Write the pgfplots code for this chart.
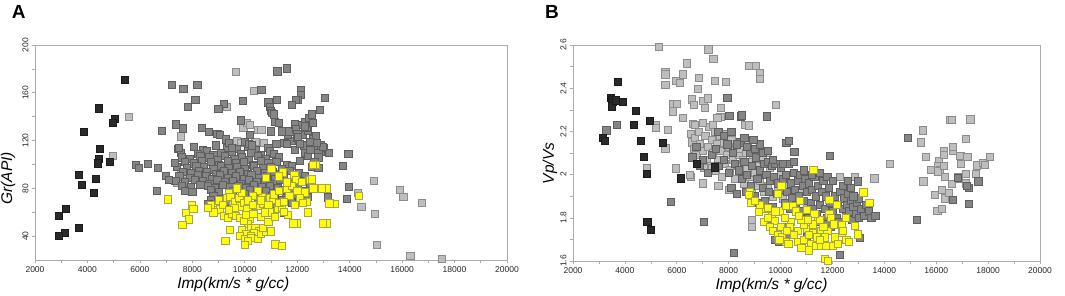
\documentclass[border=0pt]{standalone}
\usepackage{pgfplots}
\pgfplotsset{compat=1.18}
\usepackage{fontspec}
\setmainfont{Liberation Sans}
\setsansfont{Liberation Sans}
\definecolor{blkf}{HTML}{2A2A2A}
\definecolor{blkd}{HTML}{1A1A1A}
\definecolor{dkf}{HTML}{858585}
\definecolor{dkd}{HTML}{5E5E5E}
\definecolor{ltf}{HTML}{BEBEBE}
\definecolor{ltd}{HTML}{8C8C8C}
\definecolor{ylf}{HTML}{FFFF00}
\definecolor{yld}{HTML}{A6A650}
\definecolor{framec}{HTML}{ABABAB}
\pgfplotsset{
  panel/.style={
    scale only axis,
    xmin=2000, xmax=20000,
    xtick={2000,4000,...,20000},
    minor xtick={3000,5000,...,19000},
    scaled x ticks=false, scaled y ticks=false,
    tick align=outside, tick pos=left,
    major tick length=3pt, minor tick length=3pt,
    axis line style={draw=framec, line width=0.6pt},
    every tick/.style={draw=framec, line width=0.6pt},
    tick label style={font=\fontsize{8.5}{10}\selectfont, text=black!85},
    yticklabel style={rotate=90, anchor=south},
    /pgf/number format/1000 sep={},
    /pgf/number format/assume math mode=true,
    xlabel style={font=\fontsize{15.5}{18}\selectfont\itshape, inner sep=0pt, anchor=north},
    ylabel style={font=\fontsize{15.5}{18}\selectfont\itshape, inner sep=0pt, anchor=south},
  },
  dk/.style={only marks, mark=square*, mark size=3.6pt, mark options={fill=dkf, draw=dkd, line width=0.6pt}},
  lt/.style={only marks, mark=square*, mark size=3.6pt, mark options={fill=ltf, draw=ltd, line width=0.6pt}},
  yl/.style={only marks, mark=square*, mark size=3.6pt, mark options={fill=ylf, draw=yld, line width=0.6pt}},
  bk/.style={only marks, mark=square*, mark size=3.6pt, mark options={fill=blkf, draw=blkd, line width=0.6pt}},
}
\begin{document}
\begin{tikzpicture}
\useasboundingbox (0,0) rectangle (1065pt,295pt);
\node[anchor=base west, inner sep=0pt, font=\fontsize{19}{22}\selectfont\bfseries] at (11.7pt,276.7pt) {A};
\node[anchor=base west, inner sep=0pt, font=\fontsize{19}{22}\selectfont\bfseries] at (545pt,276.7pt) {B};
% ---------------- Panel A ----------------
\begin{axis}[panel, at={(35pt,35pt)}, anchor=south west, width=472pt, height=215pt,
  ymin=20, ymax=200, ytick={40,80,120,160,200}, minor ytick={60,100,140,180},
  xlabel={Imp(km/s * g/cc)}, ylabel={Gr(API)},
  xlabel style={at={(axis description cs:0.42,0)}, yshift=-17pt},
  ylabel style={at={(axis description cs:-0.041,0.38)}}]
% light gray
\addplot[lt] coordinates {(9650,177.7) (10340,161.8) (9323,148) (5590,140) (4965,107) (7556,123.5) (9700,120) (9940,131) (10070,135) (10486,129) (10630,128.8) (10715,118) (7547,94) (7430,84.7) (7800,92) (14913,86) (14303,76) (15920,79) (16046,73) (16758,68) (14443,64.6) (14964,58.8) (15040,33) (16313,23.6) (17520,20.8) (9850,118) (10400,119) (10200,133)};
% dark gray core
\addplot[dk] coordinates {
(7450,113) (8050,115) (8400,112) (8900,116) (9300,114) (9700,113) (10100,115) (10400,112) (10900,114) (12250,116) (12700,113)
(7550,110) (8200,109) (8550,111) (8800,108) (9100,110) (9500,111) (9850,109) (10250,110) (10600,108) (10950,111) (11100,109) (12300,110) (12900,111)
(7600,106) (7900,105) (8300,107) (8650,106) (8950,104) (9250,107) (9600,105) (9900,106) (10150,104) (10500,107) (10800,105) (11300,106) (12400,107)
(7700,102) (8050,101) (8350,103) (8700,102) (9000,100) (9350,103) (9650,101) (9950,102) (10300,100) (10600,103) (10900,101) (11200,102) (11600,100) (12100,103)
(7400,98) (7800,97) (8150,99) (8450,98) (8800,96) (9100,99) (9400,97) (9700,98) (10000,96) (10350,99) (10700,97) (11000,98) (11400,96) (11800,99) (12550,98) (12800,97)
(7650,94) (7950,93) (8250,95) (8550,94) (8900,92) (9200,95) (9500,93) (9800,94) (10100,92) (10450,95) (10750,93) (11050,94) (11350,92) (11700,95) (12050,93)
(7500,90) (7900,89) (8200,91) (8500,90) (8750,88) (9050,91) (9350,89) (9650,90) (9950,88) (10250,91) (10550,89) (10850,90) (11150,88) (11500,91) (11900,89) (12300,90)
(7350,86) (7700,85) (8100,87) (8400,86) (8650,84) (8950,87) (9250,85) (9550,86) (9850,84) (10150,87) (10450,85) (10750,86) (11050,84) (11350,87) (11700,85) (12100,86) (12500,84)
(7600,82) (7950,81) (8300,83) (8600,82) (8850,80) (9150,83) (9450,81) (9750,82) (10050,80) (10350,83) (10650,81) (10950,82) (11250,80) (11600,83) (12000,81)
(7700,78) (8000,77) (8700,79) (9000,77) (9550,78) (9900,76) (10200,79) (10500,77) (10800,78) (11150,76) (11450,79) (11800,77) (12250,78)
(8800,74) (9400,73) (10000,75) (10700,73) (11050,74) (11550,72) (12000,75) (12400,73)
(8700,70) (9300,69) (10500,71) (10900,69) (11400,70) (11800,68)
(9100,66) (10200,65) (11200,67) (8610,67) (11490,60)
(11500,118) (11800,120) (12000,122) (12200,125) (12400,128) (12150,133) (12300,136) (12450,139) (12550,142) (12350,131) (12600,121) (12700,124) (12900,116) (13000,114) (12800,110) (13200,110) (11900,112) (12100,117) (12500,112) (11650,125)
(7213,167) (8190,166.5) (7657,163.2) (10630,162.3) (11243,178) (11600,180.5) (12150,162) (12150,158) (12030,154) (11960,154) (13060,156) (8115,154) (7823,148.4) (9210,151) (8990,146.7) (9920,153) (10900,152) (10950,148) (11000,145) (11020,143) (11230,154) (11100,142) (11790,150) (12870,145.6) (9845,137) (10200,125) (11000,127.7) (11130,136) (11300,135) (11400,127.7) (11700,127.7) (11900,133.6) (11950,130) (12000,125.5) (12030,123) (12300,132) (12600,135) (8370,130.8) (8625,127.4) (7366,133.6) (7645,130.2) (6830,128.3) (8950,125.5) (9060,125) (9280,121) (9400,118) (9510,114) (10000,119) (10150,117) (10280,116) (11200,117) (11600,117)
(13950,109) (13740,98.7) (13972,81) (13900,71) (13170,72.5) (5855,99.5) (5950,97) (6300,100.4) (6670,97.3) (6660,78) (6990,90.6) (7100,87) (7320,101.5) (7470,114) (13200,110) (12980,115) (12090,103) (12800,106) (12650,102) (12500,119) (12750,118)};
% yellow
\addplot[yl] coordinates {(7060,70.8) (7975,66) (8040,62.7) (7759,59.6) (7873,54) (7619,49.8) (8928,62) (9055,62.5) (8700,66) (9386,76.4) (9538,68) (9300,72) (9450,73) (9627,68.8) (9792,72.4) (9818,64.9) (9970,68) (10097,62.4) (10199,54.6) (10326,58.5) (10479,65.2) (10644,73) (10707,66.9) (10962,72.4) (11012,96.2) (11445,93.4) (11890,91.1) (11953,87) (12170,85.3) (12487,87) (12564,87.5) (12754,80.3) (13123,80) (12297,76.6) (12360,68.8) (13415,66.9) (11978,50.7) (13123,50.7) (11089,70.2) (11250,63) (11400,64) (11640,58) (11500,60.5) (11320,68) (10850,62) (10950,60) (10100,50) (10250,47) (10400,47) (10550,44) (10350,43) (9900,45) (10050,42) (10230,40) (9800,40.5) (10000,38) (10250,38.5) (10500,38) (11165,33.1) (11420,31.7) (9437,45.1) (9259,36.2) (9200,57) (9350,55) (9500,59) (9650,57) (9800,55) (9950,53) (10050,58) (10600,56) (10750,60) (10900,66) (11100,75) (11300,78) (11600,80) (11800,82) (11700,74) (12000,78) (12100,72) (12200,68) (11900,66) (12703,99.5) (11300,90) (11600,85) (10800,89) (10500,78) (9900,76) (9700,80) (10300,74) (10100,70) (9600,64) (9000,70) (8800,60) (8600,64) (9150,66) (10600,42) (10800,44) (11000,44) (10700,47) (10100,36) (10000,33) (10900,52) (10300,66) (9400,62) (10600,70) (11150,56) (11500,69) (12400,60) (14340,74) (12610,80) (12590,99.5) (11850,50.7) (12950,80) (12990,50.7) (13220,67.4)};
% black
\addplot[bk] coordinates {(5430,171) (4420,147) (5030,138) (4970,135) (3870,127) (4480,113) (4440,105) (4390,101) (4840,102) (3680,91) (3780,83) (4320,88) (4230,76) (3170,63) (2920,57) (3670,47) (3150,43) (2900,40)};
\end{axis}
% ---------------- Panel B ----------------
\begin{axis}[panel, at={(573pt,34pt)}, anchor=south west, width=467pt, height=216pt,
  ymin=1.6, ymax=2.6, ytick={1.6,1.8,2,2.2,2.4,2.6}, minor ytick={1.7,1.9,2.1,2.3,2.5},
  xlabel={Imp(km/s * g/cc)}, ylabel={Vp/Vs},
  xlabel style={at={(axis description cs:0.425,0)}, yshift=-17pt},
  ylabel style={at={(axis description cs:-0.0336,0.452)}}]
% light gray
\addplot[lt] coordinates {
(5299,2.592) (7217,2.580) (7409,2.535) (6386,2.515) (5554,2.476) (5554,2.464) (5554,2.414) (5950,2.436) (6130,2.425) (6220,2.464) (6835,2.448) (6810,2.398) (7473,2.433) (7882,2.429) (8790,2.502) (9045,2.502) (9200,2.471) (9200,2.443) (9812,2.324) (5848,2.329) (6000,2.329) (5835,2.293) (6220,2.262) (6580,2.349) (6670,2.322) (7025,2.34) (7180,2.353) (7690,2.31) (7677,2.267) (7560,2.264) (8620,2.231) (8790,2.228) (7090,2.31) (5196,2.228) (5644,2.208) (5554,2.122) (5964,2.029) (6616,2.236) (6540,1.99) (8880,1.79) (8900,1.76) (13610,1.983) (14210,2.05) (12270,1.988) (12870,1.988) (4850,2.03) (5200,2.215)
(15470,2.205) (15410,2.150) (15600,2.081) (15500,1.969) (15800,2.023) (15950,1.908) (16040,1.833) (16200,1.843) (16100,2.065) (16080,2.042) (16130,2.02) (16060,2.015) (16300,2.11) (16300,2.093) (16280,2.04) (16330,1.99) (16200,1.928) (16320,1.89) (16480,1.917) (16520,2.254) (16600,2.254) (17310,2.256) (16650,2.11) (16650,2.127) (16600,1.958) (16930,2.088) (16960,2.05) (17150,2.164) (17130,2.003) (17200,2.084) (16880,1.98) (17510,2.003) (17550,2.043) (17810,2.053) (17860,2.046) (18060,2.084) (16830,1.99) (17150,1.96)
(6550,2.19) (6600,2.15) (6650,2.12) (6700,2.17) (6750,2.09) (6800,2.05) (6850,2.2) (6900,2.14) (7000,2.11) (7050,2.03) (7100,2.18) (7150,2.07) (7200,2.13) (7250,2.22) (7300,2.04) (7350,2.16) (7400,2.1) (7450,2.2) (7500,2.02) (7550,2.14) (7600,2.07) (7650,2.18) (7700,2.11) (7750,1.99) (7800,2.15) (7850,2.05) (7900,2.19) (7950,2.09) (8000,2.13) (8050,2.02) (8100,2.16) (8150,2.07) (8200,2.11) (8250,1.98) (8300,2.14) (8350,2.04) (8400,2.09) (8450,2.12) (8500,2.01) (8550,2.07) (8600,1.96) (8650,2.1) (8700,2.03) (8750,2.14) (8800,1.99) (8850,2.06) (8900,1.93) (8950,2.09) (9000,2.01) (9050,1.95) (9100,2.12) (9150,2.04) (9200,1.97) (9300,2.07) (9350,1.92) (9400,2.0) (9450,2.1) (9500,1.95) (9600,2.03) (9700,1.9) (9800,1.98) (9900,1.94) (10000,2.0) (10100,1.89) (10300,1.95) (10500,1.9) (10800,1.93) (11000,1.86) (6500,2.0) (7000,1.96) (7350,2.03) (7600,1.95) (8000,1.93) (6700,2.23) (7000,2.24) (7400,2.23)};
% dark gray
\addplot[dk] coordinates {
(3280,2.205) (3688,2.231) (5772,1.875) (7050,1.783) (7945,2.355) (8022,2.271) (8470,2.27) (8520,2.275) (9480,2.27) (10220,2.147) (10320,2.155) (10530,2.104) (11900,2.088) (14900,2.169) (15250,1.789) (16650,1.885) (17270,1.864) (17270,1.938) (17620,1.969) (16845,1.985) (17170,1.949) (8200,1.639) (12270,1.628) (13060,1.708) (12990,1.969) (12590,1.95)
(6600,2.08) (6750,2.13) (6900,2.04) (7000,2.07) (7200,2.01) (7350,2.09) (7500,2.12) (7600,2.04) (7800,2.07) (7950,2.14) (8000,2.01) (8100,1.94) (8150,2.1) (8250,2.05) (8300,1.91) (8400,2.02) (8450,2.15) (8500,1.98) (8600,2.06) (8650,1.92) (8700,2.0) (8800,2.1) (8850,1.95) (8900,2.04) (9000,1.9) (9050,2.08) (9100,1.98) (9150,1.87) (9200,2.02) (9250,2.11) (9300,1.94) (9350,2.05) (9400,1.88) (9450,2.0) (9500,2.06) (9550,1.92) (9600,1.97) (9650,2.04) (9700,1.85) (9750,1.99) (9800,2.05) (9850,1.91) (9900,1.96) (9950,1.83) (10000,2.03) (10050,1.93) (10100,1.98) (10150,1.87) (10200,2.0) (10250,1.92) (10300,2.05) (10350,1.84) (10400,1.96) (10450,1.89) (10500,2.01) (10550,1.93) (10600,1.86) (10650,1.97) (10700,1.9) (10750,2.0) (10800,1.83) (10850,1.95) (10900,1.88) (10950,1.98) (11000,1.92) (11050,1.8) (11100,1.96) (11150,1.87) (11200,1.93) (11250,1.84) (11300,1.99) (11350,1.9) (11400,1.82) (11450,1.95) (11500,1.86) (11550,1.78) (11600,1.92) (11650,1.97) (11700,1.84) (11750,1.9) (11800,1.8) (11850,1.94) (11900,1.87) (11950,1.76) (12000,1.83) (12100,1.9) (12150,1.8) (12200,1.86) (12250,1.78) (12300,1.92) (12400,1.84) (12450,1.89) (12500,1.81) (12550,1.86) (12600,1.91) (12650,1.83) (12700,1.88) (12750,1.79) (12800,1.85) (12900,1.82) (12950,1.87) (13000,1.8) (13100,1.84) (13200,1.81) (13300,1.86) (13400,1.83) (13500,1.8) (13650,1.81) (13000,1.89) (12700,1.94) (12400,1.95)
(9800,1.7) (9950,1.69) (10600,1.74) (10300,1.72) (11000,1.71) (11500,1.73) (12100,1.71) (11800,1.77) (10900,1.78) (10200,1.76) (9600,1.78)
(7600,2.2) (7800,2.18) (8100,2.2) (8300,2.14) (8700,2.13) (9000,2.12) (9300,2.1) (9200,2.14) (8950,2.16) (8600,2.17) (9500,2.11) (9700,2.07) (10100,2.05) (10500,2.06) (10900,2.02) (11200,2.0) (11500,2.01) (11800,1.99) (12000,1.97) (12600,1.97) (12800,1.9)};
% yellow
\addplot[yl] coordinates {(8815,1.922) (8790,1.905) (8840,1.871) (9260,1.848) (9390,1.84) (9520,1.848) (9160,1.828) (9350,1.783) (9650,1.81) (9770,1.786) (9580,1.76) (9710,1.74) (9900,1.91) (10030,1.95) (9960,1.83) (10220,1.855) (10470,1.857) (10730,1.879) (11020,1.836) (11260,2.023) (11440,1.786) (11880,1.882) (11880,1.82) (12180,1.86) (12360,1.767) (12360,1.73) (12530,1.7) (12620,1.69) (12870,1.763) (12990,1.724) (13190,1.918) (13420,1.871) (11690,1.612) (11810,1.6)
(9900,1.72) (10050,1.71) (10200,1.69) (10300,1.68) (9950,1.70) (10650,1.69) (10900,1.70) (11150,1.68) (11350,1.67) (11550,1.67) (11750,1.67) (12000,1.67) (10650,1.74) (11000,1.75) (11250,1.73) (11550,1.74) (11800,1.74) (10400,1.78) (10900,1.77) (11250,1.77) (11500,1.79) (11950,1.80) (10160,1.80) (10000,1.76) (10500,1.72) (10800,1.79) (11100,1.72) (11400,1.71) (11700,1.71) (12100,1.71) (12200,1.68) (11300,1.82) (10600,1.83) (10350,1.76) (9800,1.83) (9500,1.8) (9200,1.86) (9000,1.88) (12500,1.8) (12050,1.77) (11650,1.76) (10800,1.66) (11100,1.65) (11500,1.7) (12400,1.74) (10700,1.81) (11050,1.79) (10250,1.74)};
% black
\addplot[bk] coordinates {(3740,2.43) (3470,2.357) (3500,2.344) (3520,2.336) (3500,2.316) (3660,2.344) (3920,2.338) (4430,2.296) (4350,2.231) (4620,2.155) (4950,2.25) (5465,2.147) (4740,2.081) (4840,2.003) (3140,2.171) (3215,2.158) (6155,1.983) (4860,1.781) (4990,1.746) (7460,2.034) (6770,2.05)};
\end{axis}
\end{tikzpicture}
\end{document}
